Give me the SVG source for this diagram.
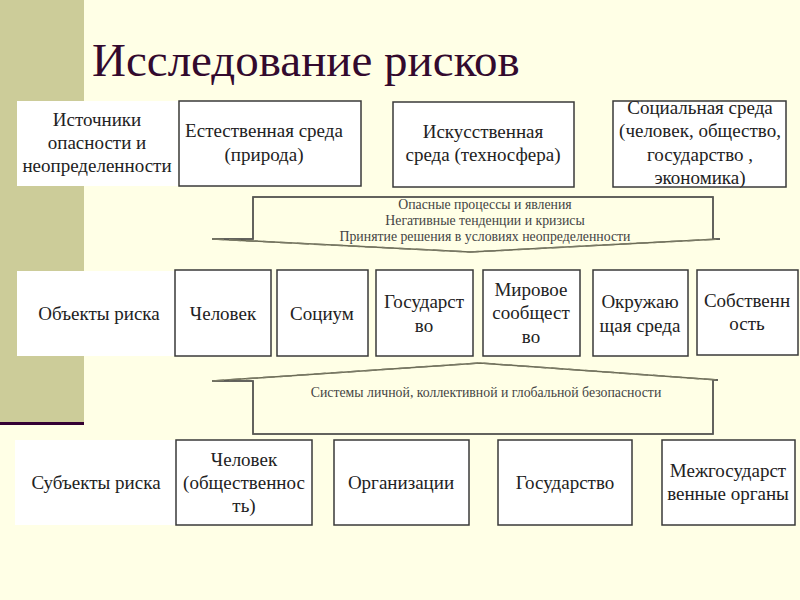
<svg xmlns="http://www.w3.org/2000/svg" width="800" height="600" viewBox="0 0 800 600">
<style>
.t{font-family:"Liberation Serif","Times New Roman",serif;font-size:19px;fill:#222;text-anchor:middle}
.s{font-family:"Liberation Serif","Times New Roman",serif;font-size:13.8px;fill:#444;text-anchor:middle}
.b{fill:#fff;stroke:#3a3a3a;stroke-width:1.5}
.w{fill:#fff;stroke:none}
.sol{fill:#ffffe6;stroke:#6b6b55;stroke-width:1.5}
.dash{fill:none;stroke:#7a7a66;stroke-width:1.5;stroke-dasharray:12 5}
</style>
<rect x="0" y="0" width="800" height="600" fill="#ffffe6"/>
<rect x="0" y="0" width="84" height="423" fill="#cccc99"/>
<rect x="0" y="422" width="84" height="3" fill="#330033"/>
<text x="92" y="76" font-family="Liberation Serif,Times New Roman,serif" font-size="47" fill="#330a2e">Исследование рисков</text>

<g id="connectors">
<path class="sol" d="M212,239 L253,239 L253,197 L713,197 L713,239 L720,239 L470,252 Z" stroke="none"/>
<path fill="none" stroke="#555" stroke-width="1.5" d="M212,239 L253,239 L253,197 L713,197 L713,239 L720,239"/>
<path class="dash" d="M212,239 L470,252 L720,239"/>
<path class="sol" d="M212,381 L253,381 L253,434 L713,434 L713,380 L718,380 L480,363 Z" stroke="none"/>
<path fill="none" stroke="#555" stroke-width="1.5" d="M212,381 L253,381 L253,434 L713,434 L713,380 L718,380"/>
<path class="dash" d="M212,381 L480,363 L718,380"/>
<text class="s" x="485" y="209">Опасные процессы и явления</text>
<text class="s" x="485" y="225">Негативные тенденции и кризисы</text>
<text class="s" x="485" y="241">Принятие решения в условиях неопределенности</text>
<text class="s" x="486" y="397">Системы личной, коллективной и глобальной безопасности</text>
</g>

<g id="n-sources"><rect class="w" x="17" y="101" width="161" height="85"/>
<text class="t" x="97" y="126">Источники</text><text class="t" x="97" y="149">опасности и</text><text class="t" x="97" y="172">неопределенности</text></g>
<g id="n-nature"><rect class="b" x="179" y="101" width="182" height="85"/>
<text class="t" x="264" y="137">Естественная среда</text><text class="t" x="264" y="161">(природа)</text></g>
<g id="n-techno"><rect class="b" x="393" y="102" width="181" height="85"/>
<text class="t" x="483" y="138">Искусственная</text><text class="t" x="483" y="161">среда (техносфера)</text></g>
<g id="n-social"><rect class="b" x="613" y="101" width="173" height="86"/>
<text class="t" x="700" y="114">Социальная среда</text><text class="t" x="700" y="137">(человек, общество,</text><text class="t" x="700" y="161">государство ,</text><text class="t" x="700" y="184">экономика)</text></g>

<g id="n-objects"><rect class="w" x="17" y="271" width="158" height="85"/>
<text class="t" x="99" y="320">Объекты риска</text></g>
<g id="n-person"><rect class="b" x="175" y="270" width="96" height="86"/>
<text class="t" x="223" y="320">Человек</text></g>
<g id="n-socium"><rect class="b" x="277" y="270" width="91" height="86"/>
<text class="t" x="322" y="320">Социум</text></g>
<g id="n-state"><rect class="b" x="376" y="270" width="97" height="86"/>
<text class="t" x="424" y="308">Государст</text><text class="t" x="424" y="332">во</text></g>
<g id="n-world"><rect class="b" x="483" y="270" width="97" height="86"/>
<text class="t" x="531" y="296">Мировое</text><text class="t" x="531" y="319">сообщест</text><text class="t" x="531" y="343">во</text></g>
<g id="n-env"><rect class="b" x="593" y="270" width="95" height="86"/>
<text class="t" x="640" y="308">Окружаю</text><text class="t" x="640" y="332">щая среда</text></g>
<g id="n-property"><rect class="b" x="697" y="270" width="101" height="85" stroke="#777"/>
<text class="t" x="747" y="307">Собственн</text><text class="t" x="747" y="330">ость</text></g>

<g id="n-subjects"><rect class="w" x="15" y="440" width="161" height="85"/>
<text class="t" x="96" y="489">Субъекты риска</text></g>
<g id="n-public"><rect class="b" x="176" y="440" width="136" height="85"/>
<text class="t" x="244" y="466">Человек</text><text class="t" x="244" y="489">(общественнос</text><text class="t" x="244" y="512">ть)</text></g>
<g id="n-org"><rect class="b" x="334" y="440" width="135" height="85"/>
<text class="t" x="401" y="489">Организации</text></g>
<g id="n-gov"><rect class="b" x="498" y="440" width="134" height="85"/>
<text class="t" x="565" y="489">Государство</text></g>
<g id="n-inter"><rect class="b" x="662" y="440" width="133" height="85"/>
<text class="t" x="728" y="477">Межгосударст</text><text class="t" x="728" y="500">венные органы</text></g>
</svg>
